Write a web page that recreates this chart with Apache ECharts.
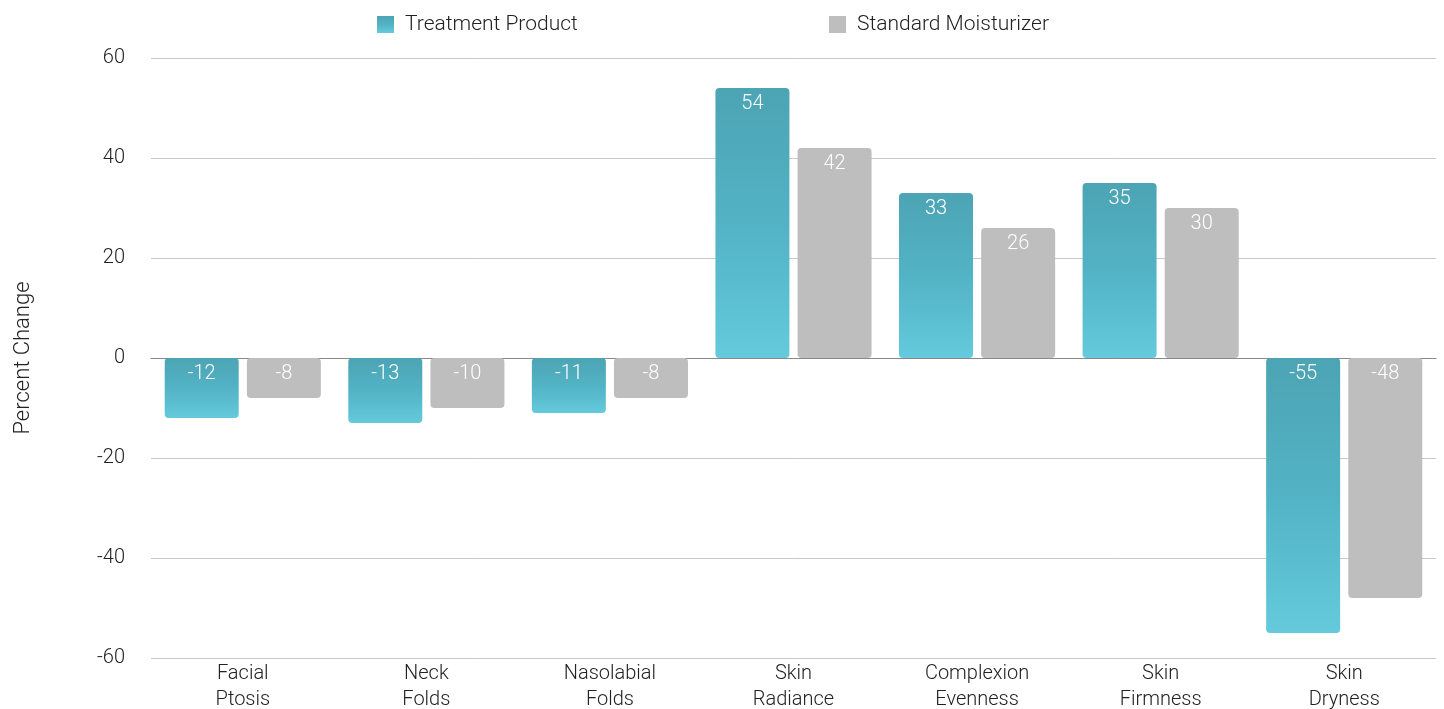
<!DOCTYPE html>
<html>
<head>
<meta charset="utf-8">
<script src="https://cdn.jsdelivr.net/npm/echarts@6/dist/echarts.min.js"></script>
<style>
  html, body { margin: 0; padding: 0; background: #fff; }
  #chart { width: 1444px; height: 709px; }
</style>
</head>
<body>
<div id="chart"></div>
<script>
var categories = ['Facial\nPtosis', 'Neck\nFolds', 'Nasolabial\nFolds', 'Skin\nRadiance', 'Complexion\nEvenness', 'Skin\nFirmness', 'Skin\nDryness'];
var treatment = [-12, -13, -11, 54, 33, 35, -55];
var standard = [-8, -10, -8, 42, 26, 30, -48];
var yTicks = [-60, -40, -20, 0, 20, 40, 60];

var FONT = "'Helvetica Neue', Roboto, 'Liberation Sans', sans-serif";

var tealGrad = new echarts.graphic.LinearGradient(0, 0, 0, 1, [
  { offset: 0, color: '#4ca4b4' },
  { offset: 0.5, color: '#52b3c5' },
  { offset: 1, color: '#64cadc' }
]);

var chart = echarts.init(document.getElementById('chart'));

var barLabel = {
  show: true,
  position: 'insideTop',
  distance: 6,
  color: '#fff',
  fontSize: 20,
  fontFamily: FONT,
  fontWeight: 300
};

var legendText = { fontSize: 21, color: '#222', fontFamily: FONT, fontWeight: 300, padding: [0, 0, 0, 6] };

var option = {
  animation: false,
  legend: [{
    data: ['Treatment Product'],
    left: 377, top: 14, padding: 0,
    itemWidth: 17, itemHeight: 17,
    icon: 'rect',
    textStyle: legendText
  }, {
    data: ['Standard Moisturizer'],
    left: 829, top: 14, padding: 0,
    itemWidth: 17, itemHeight: 17,
    icon: 'rect',
    textStyle: legendText
  }],
  grid: { left: 151, right: 8, top: 58, bottom: 51, outerBoundsMode: 'none', containLabel: false },
  xAxis: {
    type: 'category',
    data: categories,
    axisTick: { show: false },
    axisLine: { lineStyle: { color: '#888', width: 1 } },
    axisLabel: {
      color: '#222', fontSize: 20, lineHeight: 26, margin: 3,
      fontFamily: FONT, fontWeight: 300
    }
  },
  yAxis: {
    type: 'value',
    min: yTicks[0], max: yTicks[yTicks.length - 1], interval: 20,
    name: 'Percent Change',
    nameLocation: 'middle',
    nameGap: 117,
    nameRotate: 90,
    nameTextStyle: { fontSize: 22, color: '#222', fontFamily: FONT, fontWeight: 300 },
    axisLine: { show: false },
    axisTick: { show: false },
    axisLabel: { color: '#222', fontSize: 20, margin: 26, fontFamily: FONT, fontWeight: 300 },
    splitLine: { lineStyle: { color: '#c8c8c8', width: 1 } }
  },
  series: [{
    name: 'Treatment Product',
    type: 'bar',
    data: treatment,
    barWidth: 74,
    barGap: '11%',
    itemStyle: { color: tealGrad, borderRadius: 4 },
    label: barLabel
  }, {
    name: 'Standard Moisturizer',
    type: 'bar',
    data: standard,
    barWidth: 74,
    itemStyle: { color: '#bebebe', borderRadius: 4 },
    label: barLabel
  }]
};

chart.setOption(option);
</script>
</body>
</html>
